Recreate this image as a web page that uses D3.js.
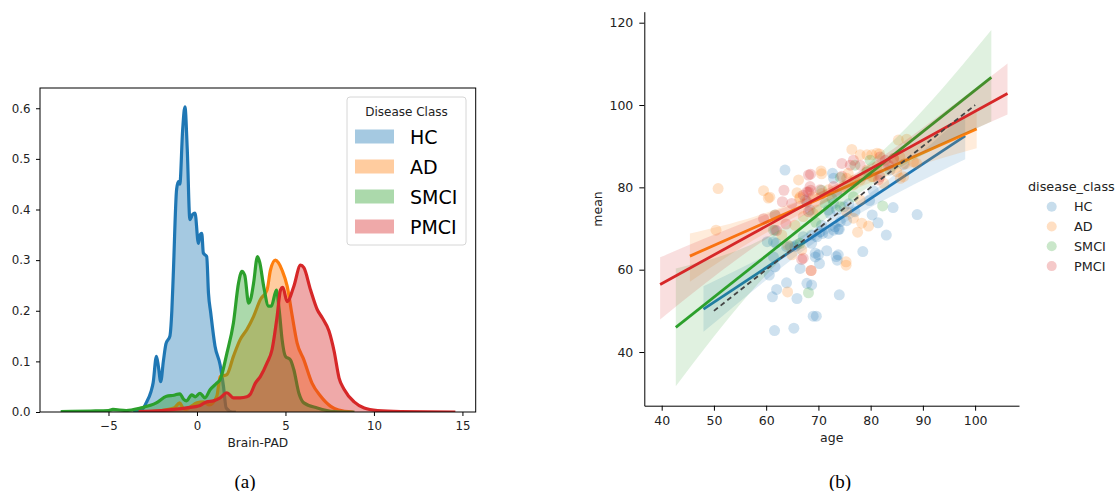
<!doctype html>
<html>
  <head>
    <meta charset="utf-8" />
    <title>Brain-PAD by disease class</title>
    <style>
      body { margin: 0; background: #fff; }
      svg text { font-family: "DejaVu Sans", sans-serif; fill: #222; }
      .caption { font-family: "Liberation Serif", serif; fill: #000; }
    </style>
  </head>
  <body>
    <svg id="fig" width="1116" height="491"></svg>
    <script src="https://d3js.org/d3.v7.min.js"></script>
    <script>
      // panel (a): density of Brain-PAD per class, [value, density]
      const classes = ['HC', 'AD', 'SMCI', 'PMCI'];
      const colors = ['#1f77b4', '#ff7f0e', '#2ca02c', '#d62728'];

      const hcDensity = [
        [-3.6, 0], [-3.1, 0.005], [-2.87, 0.018], [-2.6, 0.04], [-2.48, 0.057], [-2.29, 0.11],
        [-2.18, 0.09], [-2.05, 0.06], [-1.9, 0.1], [-1.75, 0.135], [-1.53, 0.15], [-1.42, 0.2],
        [-1.34, 0.27], [-1.15, 0.44], [-1.05, 0.455], [-0.97, 0.45], [-0.81, 0.557], [-0.68, 0.603],
        [-0.55, 0.52], [-0.4, 0.38], [-0.25, 0.39], [-0.11, 0.393], [0.08, 0.333], [0.18, 0.35],
        [0.27, 0.353], [0.36, 0.314], [0.55, 0.307], [0.65, 0.235], [0.78, 0.195], [1.02, 0.13],
        [1.31, 0.093], [1.5, 0.05], [1.65, 0.008], [2.0, 0], [2.2, 0]
      ];
      const adDensity = [
        [-3.0, 0], [-2.0, 0.003], [-1.3, 0.008], [-0.97, 0.018], [-0.8, 0.008], [-0.6, 0.005],
        [-0.3, 0.012], [0, 0.018], [0.36, 0.02], [0.7, 0.014], [1.12, 0.031], [1.31, 0.07],
        [1.69, 0.074], [2.06, 0.11], [2.44, 0.143], [2.82, 0.163], [3.2, 0.189], [3.58, 0.222],
        [3.96, 0.241], [4.15, 0.28], [4.43, 0.3], [4.6, 0.295], [4.81, 0.28], [5.1, 0.248],
        [5.38, 0.19], [5.66, 0.136], [6.04, 0.103], [6.5, 0.057], [6.99, 0.031], [7.56, 0.011],
        [8.0, 0.004], [8.8, 0]
      ];
      const smciDensity = [
        [-7.7, 0.001], [-6, 0.002], [-5, 0.003], [-4.75, 0.005], [-4, 0.003], [-3.2, 0.008],
        [-2.3, 0.018], [-1.72, 0.031], [-1.3, 0.033], [-0.97, 0.036], [-0.75, 0.025], [-0.59, 0.022],
        [-0.3, 0.034], [-0.1, 0.03], [0.17, 0.037], [0.45, 0.028], [0.74, 0.044], [1.12, 0.057],
        [1.31, 0.064], [1.69, 0.116], [2.06, 0.176], [2.35, 0.255], [2.54, 0.278], [2.7, 0.27],
        [2.92, 0.215], [3.05, 0.225], [3.2, 0.255], [3.42, 0.307], [3.55, 0.295], [3.77, 0.248],
        [4.05, 0.209], [4.2, 0.209], [4.49, 0.241], [4.65, 0.2], [4.81, 0.143], [5.0, 0.11],
        [5.28, 0.103], [5.47, 0.084], [5.76, 0.037], [6.04, 0.018], [6.8, 0.008], [7.75, 0.001],
        [8.9, 0]
      ];
      const pmciDensity = [
        [-3.3, 0.001], [-2, 0.003], [-0.59, 0.008], [0.17, 0.013], [0.55, 0.02], [0.93, 0.022],
        [1.31, 0.028], [1.69, 0.038], [2.06, 0.028], [2.44, 0.028], [2.82, 0.03], [3.01, 0.035],
        [3.3, 0.057], [3.58, 0.07], [3.96, 0.097], [4.24, 0.123], [4.53, 0.189], [4.72, 0.241],
        [4.85, 0.246], [5.1, 0.218], [5.47, 0.248], [5.85, 0.29], [6.04, 0.285], [6.42, 0.241],
        [6.8, 0.202], [7.08, 0.186], [7.46, 0.16], [7.75, 0.12], [8.03, 0.067], [8.31, 0.045],
        [8.88, 0.02], [9.45, 0.008], [10.2, 0.003], [11.5, 0.001], [14.6, 0]
      ];
      const densities = [hcDensity, adDensity, smciDensity, pmciDensity];
      const padTicks = [-5, 0, 5, 10, 15];
      const densityTicks = [0, 0.1, 0.2, 0.3, 0.4, 0.5, 0.6];

      // panel (b): [age, mean] per subject
      const hcPoints = [
        [63.6, 84.2], [72.7, 83.4], [72.9, 82.2], [86.3, 85.6], [61.4, 66.8], [60.2, 66.8],
        [61.9, 66.4], [61.7, 69.6], [61.4, 63.1], [61.7, 60.7], [60.6, 58.7], [61.2, 53.4],
        [62.0, 55.2], [63.9, 56.8], [65.9, 53.0], [67.8, 56.7], [68.7, 56.3], [69.0, 48.7],
        [69.6, 48.7], [61.6, 45.2], [65.3, 45.8], [74.0, 53.9], [66.5, 60.3], [69.4, 64.0],
        [70.0, 63.6], [69.4, 63.1], [70.2, 61.5], [71.6, 64.6], [73.4, 63.2], [73.8, 63.6],
        [73.6, 62.3], [78.5, 64.4], [72.9, 69.6], [74.0, 69.8], [73.2, 70.4], [75.4, 71.9],
        [77.0, 74.1], [80.3, 73.3], [81.4, 71.4], [83.0, 68.4], [84.3, 75.1], [88.9, 73.4],
        [80.5, 79.2], [79.8, 76.8], [75.8, 76.0], [70.3, 69.2], [69.7, 68.0], [68.7, 66.4],
        [67.1, 68.0], [65.5, 65.6], [63.9, 65.6], [65.9, 66.0], [64.6, 65.7], [74.9, 75.3],
        [71.9, 74.5], [72.9, 76.1], [73.5, 78.5], [68.4, 74.5], [67.5, 76.9], [74.2, 71.7],
        [73.8, 69.8], [70.6, 70.8], [68.7, 68.4], [72.2, 73.7], [73.5, 74.5], [83.7, 84.2],
        [61.7, 73.3], [70.8, 68.8], [71.9, 68.8]
      ];
      const adPoints = [
        [50.8, 79.7], [50.4, 69.6], [59.5, 79.2], [60.7, 77.6], [60.4, 77.4], [66.2, 81.8],
        [65.9, 78.7], [66.4, 77.3], [70.5, 84.0], [70.6, 83.3], [76.4, 89.2], [78.0, 87.9],
        [79.3, 87.9], [80.2, 87.9], [81.7, 88.1], [74.8, 80.2], [75.7, 83.4], [77.0, 81.8],
        [71.9, 79.4], [69.0, 77.7], [70.6, 78.5], [69.7, 74.5], [67.1, 72.9], [75.4, 74.1],
        [76.7, 72.5], [78.3, 71.3], [79.6, 70.6], [77.5, 69.1], [75.3, 61.9], [75.3, 61.1],
        [63.0, 68.4], [64.1, 66.0], [64.1, 54.6], [66.8, 64.8], [64.9, 63.6], [61.7, 73.3],
        [65.5, 70.8], [88.2, 86.2], [86.6, 85.8], [85.6, 87.4], [81.2, 85.0], [80.2, 82.6],
        [82.5, 81.0], [85.0, 83.8], [86.3, 82.6], [85.3, 91.5], [86.9, 91.7], [88.8, 85.8],
        [81.2, 88.3], [84.4, 87.0], [75.4, 82.2], [76.7, 80.6], [78.0, 81.8], [80.5, 82.6],
        [79.3, 84.2], [78.0, 76.9], [69.0, 73.7], [66.5, 77.7], [68.6, 59.8], [85.7, 82.2]
      ];
      const smciPoints = [
        [68.1, 54.4], [82.3, 75.5], [74.2, 82.4], [72.6, 77.3], [71.3, 76.1], [70.6, 79.3],
        [74.2, 75.3], [76.7, 77.7], [79.9, 86.6], [79.3, 83.8], [77.0, 85.4], [66.5, 66.4],
        [61.4, 69.6], [69.5, 71.5]
      ];
      const pmciPoints = [
        [63.4, 79.3], [63.1, 76.5], [64.9, 76.1], [68.1, 83.0], [68.5, 83.2], [68.1, 78.9],
        [68.5, 79.3], [59.5, 72.4], [63.8, 71.1], [66.8, 62.5], [67.1, 62.8], [68.6, 59.8],
        [74.5, 85.8], [76.1, 85.4], [76.7, 86.6], [72.9, 80.2], [70.3, 79.4], [68.4, 80.2],
        [67.8, 78.9], [67.1, 78.1], [67.8, 76.5], [68.1, 74.1], [74.5, 82.7], [78.0, 85.4],
        [81.8, 87.4], [82.8, 86.6], [83.4, 85.4], [84.4, 87.0], [81.8, 82.6], [81.5, 81.8],
        [62.0, 69.5]
      ];
      const points = [hcPoints, adPoints, smciPoints, pmciPoints];

      // fitted lines [age start, mean start, age end, mean end]
      const fits = [
        [48.0, 50.4, 98.1, 92.5],
        [45.4, 63.3, 100.3, 94.2],
        [42.7, 46.0, 103.1, 106.7],
        [39.7, 56.4, 106.2, 102.8]
      ];
      // confidence bands read at a few ages: [age, low, high]
      const hcBand = [[48, 44.9, 56.0], [60, 57.5, 63.5], [72, 69.0, 72.0], [85, 78.5, 83.5], [98.1, 86.8, 98.0]];
      const adBand = [[45.4, 57.1, 68.8], [58, 67.5, 73.0], [72, 76.8, 79.8], [86, 84.0, 88.5], [100.3, 89.5, 98.6]];
      const smciBand = [[42.7, 31.7, 60.3], [57, 54.5, 66.0], [72, 73.0, 77.8], [88, 86.5, 96.0], [103.1, 96.0, 118.2]];
      const pmciBand = [[39.7, 47.9, 63.0], [56, 64.0, 71.5], [73, 77.5, 80.5], [90, 88.5, 94.5], [106.2, 97.7, 110.1]];
      const bands = [hcBand, adBand, smciBand, pmciBand];
      const identity = [[50, 50], [100, 100]];
      const ageTicks = [40, 50, 60, 70, 80, 90, 100];
      const meanTicks = [40, 60, 80, 100, 120];

      const svg = d3.select('#fig');

      // ---------- panel (a) ----------
      const xL = d3.scaleLinear().domain([-8.87, 15.75]).range([40, 475.7]);
      const yL = d3.scaleLinear().domain([0, 0.64]).range([412, 88]);

      svg.append('clipPath').attr('id', 'clipA')
        .append('rect').attr('x', 40).attr('y', 88).attr('width', 435.7).attr('height', 324);

      const gA = svg.append('g').attr('clip-path', 'url(#clipA)');
      const areaL = d3.area().x(d => xL(d[0])).y0(yL(0)).y1(d => yL(d[1])).curve(d3.curveMonotoneX);
      const lineL = d3.line().x(d => xL(d[0])).y(d => yL(d[1])).curve(d3.curveMonotoneX);

      densities.forEach((dens, i) => {
        gA.append('path').attr('d', areaL(dens))
          .attr('fill', colors[i]).attr('fill-opacity', 0.4).attr('stroke', 'none');
        gA.append('path').attr('d', lineL(dens))
          .attr('fill', 'none').attr('stroke', colors[i]).attr('stroke-width', 3.2)
          .attr('stroke-linejoin', 'round');
      });

      const axA = svg.append('g').attr('transform', 'translate(0,412)')
        .call(d3.axisBottom(xL).tickValues(padTicks).tickSize(4).tickPadding(6).tickSizeOuter(0));
      const ayA = svg.append('g').attr('transform', 'translate(40,0)')
        .call(d3.axisLeft(yL).tickValues(densityTicks).tickFormat(d3.format('.1f')).tickSize(4).tickPadding(5.5).tickSizeOuter(0));
      [axA, ayA].forEach(g => {
        g.select('.domain').remove();
        g.selectAll('text').style('font-size', '11.8px').style('font-family', '"DejaVu Sans", sans-serif');
        g.selectAll('line').attr('stroke', '#000');
      });
      svg.append('rect').attr('x', 40).attr('y', 88).attr('width', 435.7).attr('height', 324)
        .attr('fill', 'none').attr('stroke', '#000').attr('stroke-width', 1);

      svg.append('text').attr('x', 257.8).attr('y', 447).attr('text-anchor', 'middle')
        .style('font-size', '12.2px').text('Brain-PAD');

      // legend (a)
      const legA = svg.append('g');
      legA.append('rect').attr('x', 347).attr('y', 97).attr('width', 119).attr('height', 148).attr('rx', 3)
        .attr('fill', '#fff').attr('fill-opacity', 0.8).attr('stroke', '#d6d6d6');
      legA.append('text').attr('x', 406.5).attr('y', 115.5).attr('text-anchor', 'middle')
        .style('font-size', '12px').text('Disease Class');
      classes.forEach((c, i) => {
        const y = 129.5 + i * 30;
        legA.append('rect').attr('x', 355).attr('y', y).attr('width', 39).attr('height', 14)
          .attr('fill', colors[i]).attr('fill-opacity', 0.4);
        legA.append('text').attr('x', 410).attr('y', y + 14).style('font-size', '19px')
          .style('fill', '#000').text(c);
      });

      svg.append('text').attr('class', 'caption').attr('x', 245).attr('y', 488)
        .attr('text-anchor', 'middle').style('font-size', '19px').text('(a)');

      // ---------- panel (b) ----------
      const xR = d3.scaleLinear().domain([36.67, 108.4]).range([644.3, 1019]);
      const yR = d3.scaleLinear().domain([26.96, 122.67]).range([405.7, 11.7]);

      const gB = svg.append('g');
      const bandArea = d3.area().x(d => xR(d[0])).y0(d => yR(d[1])).y1(d => yR(d[2])).curve(d3.curveNatural);

      classes.forEach((c, i) => {
        gB.append('g').selectAll('circle').data(points[i]).join('circle')
          .attr('cx', d => xR(d[0])).attr('cy', d => yR(d[1])).attr('r', 5.5)
          .attr('fill', colors[i]).attr('fill-opacity', 0.22);
        gB.append('path').attr('d', bandArea(bands[i]))
          .attr('fill', colors[i]).attr('fill-opacity', 0.15);
        const f = fits[i];
        gB.append('line')
          .attr('x1', xR(f[0])).attr('y1', yR(f[1])).attr('x2', xR(f[2])).attr('y2', yR(f[3]))
          .attr('stroke', colors[i]).attr('stroke-width', 2.8);
      });

      gB.append('line')
        .attr('x1', xR(identity[0][0])).attr('y1', yR(identity[0][1]))
        .attr('x2', xR(identity[1][0])).attr('y2', yR(identity[1][1]))
        .attr('stroke', '#444').attr('stroke-width', 1.8).attr('stroke-dasharray', '5,3.5');

      const axB = svg.append('g').attr('transform', 'translate(0,405.7)')
        .call(d3.axisBottom(xR).tickValues(ageTicks).tickSize(5).tickPadding(5).tickSizeOuter(0));
      const ayB = svg.append('g').attr('transform', 'translate(644.3,0)')
        .call(d3.axisLeft(yR).tickValues(meanTicks).tickSize(5).tickPadding(6).tickSizeOuter(0));
      [axB, ayB].forEach(g => {
        g.selectAll('text').style('font-size', '12.5px').style('font-family', '"DejaVu Sans", sans-serif');
        g.selectAll('line').attr('stroke', '#000');
        g.select('.domain').attr('stroke', '#000');
      });

      svg.append('text').attr('x', 831.7).attr('y', 442).attr('text-anchor', 'middle')
        .style('font-size', '12.5px').text('age');
      svg.append('text').attr('transform', 'translate(602,209) rotate(-90)').attr('text-anchor', 'middle')
        .style('font-size', '12.5px').text('mean');

      // legend (b)
      const legB = svg.append('g');
      legB.append('text').attr('x', 1028).attr('y', 191).style('font-size', '12.8px').text('disease_class');
      classes.forEach((c, i) => {
        const cy = 206.7 + i * 19.8;
        legB.append('circle').attr('cx', 1051.7).attr('cy', cy).attr('r', 5)
          .attr('fill', colors[i]).attr('fill-opacity', 0.25);
        legB.append('text').attr('x', 1074).attr('y', cy + 4.5).style('font-size', '12.8px').text(c);
      });

      svg.append('text').attr('class', 'caption').attr('x', 840).attr('y', 488)
        .attr('text-anchor', 'middle').style('font-size', '19px').text('(b)');
    </script>
  </body>
</html>
